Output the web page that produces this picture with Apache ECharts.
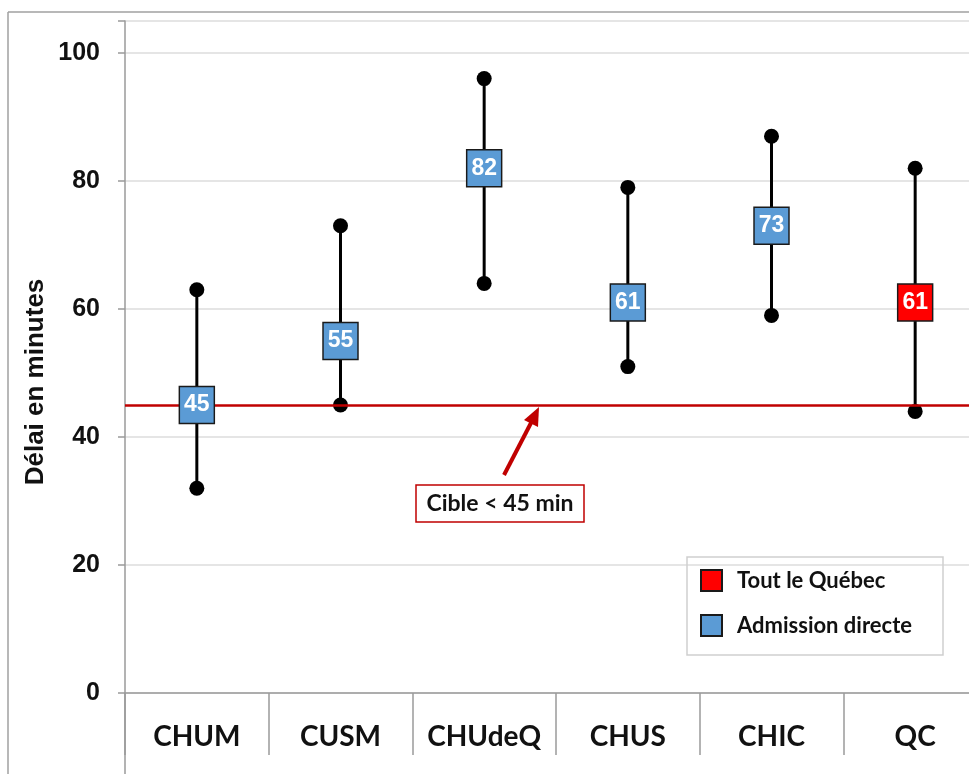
<!DOCTYPE html>
<html>
<head>
<meta charset="utf-8">
<script src="https://cdn.jsdelivr.net/npm/echarts@6/dist/echarts.min.js"></script>
<style>html,body{margin:0;padding:0;background:#fff}#c{width:969px;height:774px}</style>
</head>
<body>
<div id="c"></div>
<script>
const categories = ['CHUM', 'CUSM', 'CHUdeQ', 'CHUS', 'CHIC', 'QC'];
const delaiMoyen = [45, 55, 82, 61, 73, 61];
const borneInf = [32, 45, 64, 51, 59, 44];
const borneSup = [63, 73, 96, 79, 87, 82];
const cible = 45;
const yTicks = [0, 20, 40, 60, 80, 100];
const totalQuebec = 'QC';

const chart = echarts.init(document.getElementById('c'), null, {renderer: 'canvas'});

const blueData = [], redData = [], errData = [];
categories.forEach((c, i) => {
  errData.push([i, borneInf[i], borneSup[i]]);
  if (c === totalQuebec) redData.push([i, delaiMoyen[i]]);
  else blueData.push([i, delaiMoyen[i]]);
});

const arial = '"Liberation Sans", Arial, sans-serif';
const cal = 'Lato, "Open Sans", sans-serif';

const boxLabel = {
  show: true, position: 'inside', color: '#fff', fontFamily: arial,
  fontWeight: 'bold', fontSize: 23,
  formatter: p => p.value[1]
};

chart.setOption({
  animation: false,
  backgroundColor: '#fff',
  grid: {left: 125, top: 21, width: 862, bottom: 81, containLabel: false, outerBoundsMode: 'none'},
  xAxis: {
    type: 'category', data: categories, boundaryGap: true,
    axisLine: {lineStyle: {color: '#9a9a9a', width: 1.5}},
    axisTick: {show: true, interval: 0, length: 62, lineStyle: {color: '#9a9a9a', width: 1.5}},
    axisLabel: {interval: 0, margin: 44, verticalAlign: 'middle', color: '#111',
      fontFamily: cal, fontWeight: 'bold', fontSize: 28},
    splitLine: {show: false}
  },
  yAxis: {
    type: 'value', min: 0, max: 105, interval: 20,
    axisLine: {show: true, lineStyle: {color: '#9a9a9a', width: 1.5}},
    axisTick: {show: true, length: 7, lineStyle: {color: '#9a9a9a', width: 1.5}},
    axisLabel: {margin: 25, color: '#111', fontFamily: arial, fontWeight: 'bold', fontSize: 25,
      formatter: v => yTicks.includes(v) ? String(v) : ''},
    splitLine: {show: true, lineStyle: {color: '#dcdcdc', width: 1.5}}
  },
  legend: {
    orient: 'vertical', left: 700, top: 569, padding: 0,
    itemWidth: 21, itemHeight: 21, itemGap: 22,
    data: ['Tout le Québec', 'Admission directe'],
    textStyle: {fontFamily: cal, fontWeight: 'bold', fontSize: 22, color: '#111', padding: [0, 0, 0, 10]},
    icon: 'rect'
  },
  series: [
    {
      type: 'custom', name: 'err', z: 2, silent: true,
      data: errData,
      renderItem: (params, api) => {
        const x = api.value(0);
        const p1 = api.coord([x, api.value(1)]);
        const p2 = api.coord([x, api.value(2)]);
        return {type: 'group', children: [
          {type: 'line', shape: {x1: p1[0], y1: p1[1], x2: p2[0], y2: p2[1]},
            style: {stroke: '#000', lineWidth: 3}},
          {type: 'circle', shape: {cx: p1[0], cy: p1[1], r: 7.5}, style: {fill: '#000'}},
          {type: 'circle', shape: {cx: p2[0], cy: p2[1], r: 7.5}, style: {fill: '#000'}}
        ]};
      },
      markLine: {
        silent: true, symbol: 'none', label: {show: false},
        lineStyle: {color: '#C00000', width: 2.5, type: 'solid'},
        data: [{yAxis: cible}]
      }
    },
    {
      type: 'scatter', name: 'Admission directe', z: 5,
      symbol: 'rect', symbolSize: [35, 37],
      itemStyle: {color: '#5B9BD5', borderColor: '#1a1a1a', borderWidth: 1.5, opacity: 1},
      label: boxLabel,
      data: blueData
    },
    {
      type: 'scatter', name: 'Tout le Québec', z: 5,
      symbol: 'rect', symbolSize: [35, 37],
      itemStyle: {color: '#FF0000', borderColor: '#1a1a1a', borderWidth: 1.5, opacity: 1},
      label: boxLabel,
      data: redData
    }
  ],
  graphic: [
    {type: 'line', shape: {x1: 8, y1: 12, x2: 969, y2: 12}, style: {stroke: '#a0a0a0', lineWidth: 1.5}},
    {type: 'line', shape: {x1: 8, y1: 12, x2: 8, y2: 774}, style: {stroke: '#a0a0a0', lineWidth: 1.5}},
    {type: 'line', shape: {x1: 125, y1: 693, x2: 125, y2: 774}, style: {stroke: '#9a9a9a', lineWidth: 1.5}},
    {type: 'text', x: 36, y: 382, rotation: Math.PI / 2,
      style: {text: 'Délai en minutes', fontFamily: arial, fontWeight: 'bold', fontSize: 26,
        fill: '#111', align: 'center', verticalAlign: 'middle'}},
    {type: 'rect', shape: {x: 687, y: 557, width: 256, height: 98},
      style: {fill: 'none', stroke: '#cfcfcf', lineWidth: 1.5}, z: 1},
    {type: 'rect', shape: {x: 416, y: 485, width: 168, height: 37},
      style: {fill: '#fff', stroke: '#C00000', lineWidth: 1.5}, z: 10},
    {type: 'text', x: 500, y: 504, z: 11,
      style: {text: 'Cible < 45 min', fontFamily: cal, fontWeight: 'bold', fontSize: 23,
        fill: '#111', align: 'center', verticalAlign: 'middle'}},
    {type: 'line', shape: {x1: 504, y1: 475, x2: 532, y2: 421}, z: 10,
      style: {stroke: '#C00000', lineWidth: 4}},
    {type: 'polygon', z: 10, shape: {points: [[539, 407], [524, 420], [538, 427]]},
      style: {fill: '#C00000'}}
  ]
});
</script>
</body>
</html>
